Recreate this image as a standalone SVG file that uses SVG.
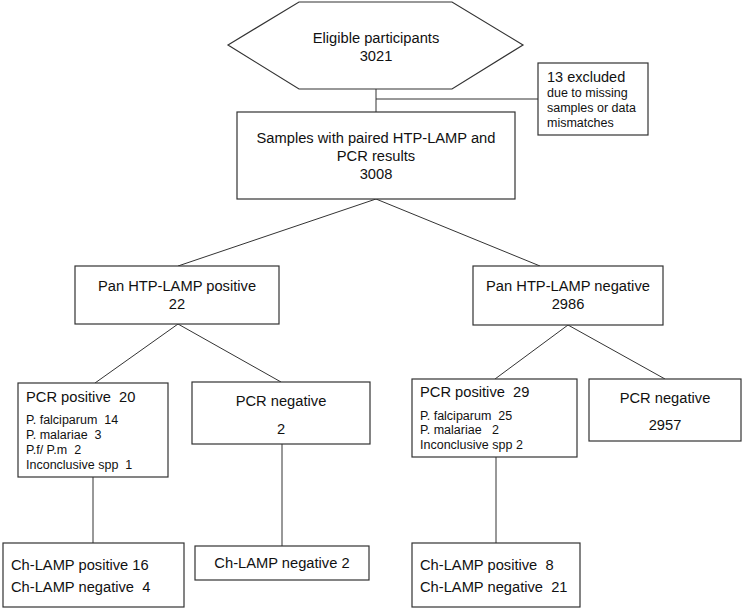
<svg xmlns="http://www.w3.org/2000/svg" width="744" height="609" viewBox="0 0 744 609">
<style>
.box{fill:#fff;stroke:#333;stroke-width:1.2}
.ln{fill:none;stroke:#333;stroke-width:1}
text{font-family:"Liberation Sans",Arial,sans-serif;fill:#111}
.t{font-size:14.7px}
.s{font-size:12.5px}
.c{text-anchor:middle}
</style>
<rect width="744" height="609" fill="#fff"/>
<g id="connectors">
<path class="ln" d="M376,89 V112"/>
<path class="ln" d="M376,99 H538"/>
<path class="ln" d="M376,199 L178,266"/>
<path class="ln" d="M376,199 L540,266"/>
<path class="ln" d="M178,324 L95,383"/>
<path class="ln" d="M178,324 L281,382"/>
<path class="ln" d="M568,325 L495,379"/>
<path class="ln" d="M568,325 L665,379"/>
<path class="ln" d="M93,477 V543"/>
<path class="ln" d="M282,444 V546"/>
<path class="ln" d="M496,457 V543"/>
</g>
<g id="eligible">
<polygon class="box" points="228,45 299,2 452,2 523,45 452,89 299,89"/>
<text class="t c" x="376" y="43">Eligible participants</text>
<text class="t c" x="376" y="61">3021</text>
</g>
<g id="excluded">
<rect class="box" x="538" y="63" width="110" height="72"/>
<text x="547" y="82" style="font-size:14.5px">13 excluded</text>
<text class="s" x="547" y="97">due to missing</text>
<text class="s" x="547" y="112">samples or data</text>
<text class="s" x="547" y="127">mismatches</text>
</g>
<g id="samples">
<rect class="box" x="237" y="112" width="278" height="87"/>
<text class="t c" x="376" y="143">Samples with paired HTP-LAMP and</text>
<text class="t c" x="376" y="161">PCR results</text>
<text class="t c" x="376" y="179">3008</text>
</g>
<g id="pan-pos">
<rect class="box" x="75" y="266" width="204" height="58"/>
<text class="t c" x="177" y="291">Pan HTP-LAMP positive</text>
<text class="t c" x="177" y="309">22</text>
</g>
<g id="pan-neg">
<rect class="box" x="473" y="266" width="190" height="59"/>
<text class="t c" x="568" y="291">Pan HTP-LAMP negative</text>
<text class="t c" x="568" y="309">2986</text>
</g>
<g id="pcr-pos-left">
<rect class="box" x="18" y="383" width="150" height="94"/>
<text class="t" x="26" y="402" xml:space="preserve">PCR positive  20</text>
<text class="s" x="26" y="424" xml:space="preserve">P. falciparum  14</text>
<text class="s" x="26" y="439" xml:space="preserve">P. malariae  3</text>
<text class="s" x="26" y="454" xml:space="preserve">P.f/ P.m  2</text>
<text class="s" x="26" y="469" xml:space="preserve">Inconclusive spp  1</text>
</g>
<g id="pcr-neg-left">
<rect class="box" x="192" y="382" width="178" height="62"/>
<text class="t c" x="281" y="406">PCR negative</text>
<text class="t c" x="281" y="434">2</text>
</g>
<g id="pcr-pos-right">
<rect class="box" x="412" y="379" width="165" height="78"/>
<text class="t" x="420" y="397" xml:space="preserve">PCR positive  29</text>
<text class="s" x="420" y="420" xml:space="preserve">P. falciparum  25</text>
<text class="s" x="420" y="434" xml:space="preserve">P. malariae   2</text>
<text class="s" x="420" y="449" xml:space="preserve">Inconclusive spp 2</text>
</g>
<g id="pcr-neg-right">
<rect class="box" x="589" y="379" width="152" height="62"/>
<text class="t c" x="665" y="403">PCR negative</text>
<text class="t c" x="665" y="430">2957</text>
</g>
<g id="ch-left">
<rect class="box" x="3" y="543" width="181" height="64"/>
<text class="t" x="11" y="570">Ch-LAMP positive 16</text>
<text class="t" x="11" y="592" xml:space="preserve">Ch-LAMP negative  4</text>
</g>
<g id="ch-mid">
<rect class="box" x="195" y="546" width="174" height="34"/>
<text class="t c" x="282" y="568">Ch-LAMP negative 2</text>
</g>
<g id="ch-right">
<rect class="box" x="412" y="543" width="168" height="64"/>
<text class="t" x="420" y="570" xml:space="preserve">Ch-LAMP positive  8</text>
<text class="t" x="420" y="592" xml:space="preserve">Ch-LAMP negative  21</text>
</g>
</svg>
